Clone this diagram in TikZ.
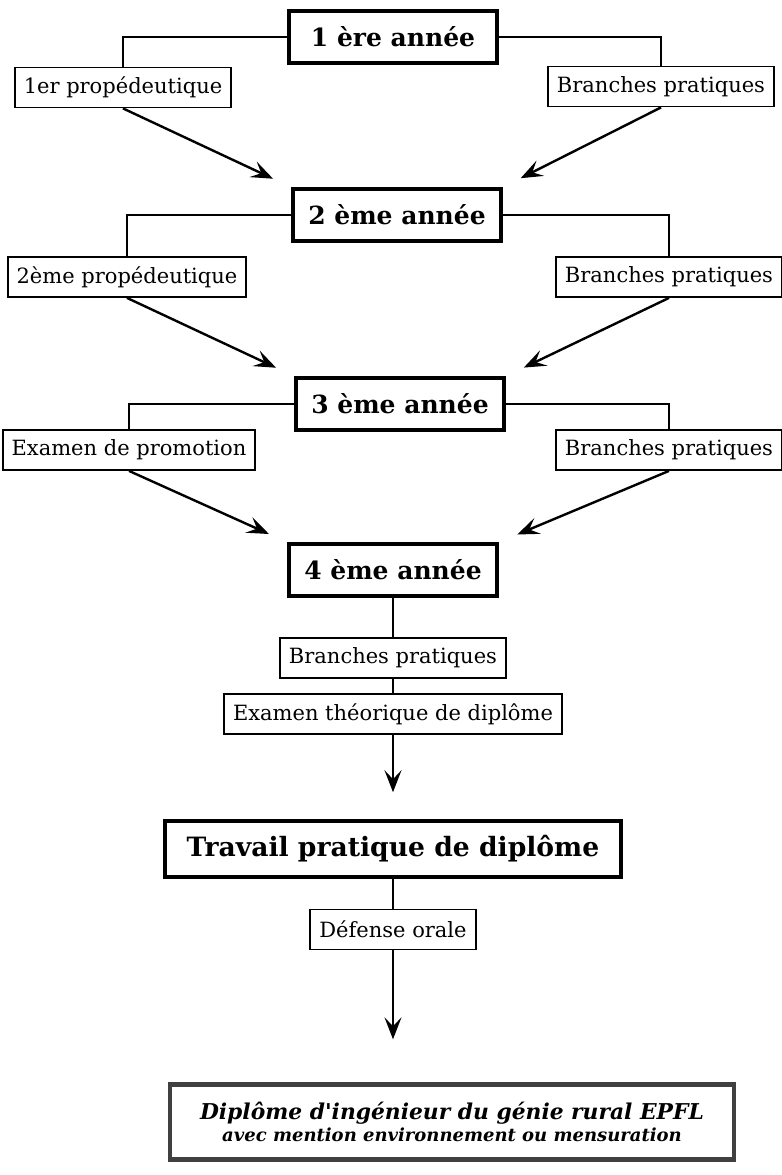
\documentclass[tikz,border=0pt]{standalone}
\usepackage{fontspec}
\setmainfont{DejaVu Serif}
\usetikzlibrary{arrows.meta,calc}
\begin{document}
\begin{tikzpicture}[x=0.5pt,y=-0.5pt,
  year/.style={draw, line width=1.8pt, minimum width=104pt, minimum height=26pt,
    inner sep=0pt, font=\bfseries\fontsize{12.5}{14}\selectfont},
  sub/.style={draw, line width=0.9pt, minimum height=20pt, inner xsep=4.5pt,
    inner ysep=2pt, font=\fontsize{10.5}{12}\selectfont},
  link/.style={line width=0.9pt},
  flow/.style={line width=1.2pt, -{Stealth[length=11pt,width=8.5pt,inset=4.5pt]}},
  final/.style={draw=black!75, line width=2.2pt, minimum width=282pt,
    minimum height=37.5pt, align=center, inner sep=4pt},
]
\useasboundingbox (0,0) rectangle (782,1175);

% first year
\node[year] (y1) at (393,37) {1 ère année};
\node[sub] (p1) at (123,87.5) {1er propédeutique};
\node[sub] (b1) at (661,86.5) {Branches pratiques};

% second year
\node[year] (y2) at (397,215) {2 ème année};
\node[sub] (p2) at (127,277) {2ème propédeutique};
\node[sub] (b2) at (669,277) {Branches pratiques};

% third year
\node[year] (y3) at (400,404) {3 ème année};
\node[sub] (p3) at (129,450) {Examen de promotion};
\node[sub] (b3) at (669,450) {Branches pratiques};

% fourth year and diploma
\node[year] (y4) at (393,570) {4 ème année};
\node[sub] (b4) at (393,658) {Branches pratiques};
\node[sub] (e4) at (393,714) {Examen théorique de diplôme};
\node[year, minimum width=228pt, minimum height=28pt,
  font=\bfseries\fontsize{13.3}{15}\selectfont] (tp) at (393,849)
  {Travail pratique de diplôme};
\node[sub] (df) at (393,929.5) {Défense orale};
\node[final] (dp) at (452,1122)
  {{\bfseries\itshape\fontsize{10.9}{13}\selectfont Diplôme d\textquotesingle ingénieur du génie rural EPFL}\\[-1pt]
   {\bfseries\itshape\fontsize{9}{11}\selectfont avec mention environnement ou mensuration}};

% branches of each year
\draw[link] (y1.west) -| (p1.north);
\draw[link] (y1.east) -| (b1.north);
\draw[link] (y2.west) -| (p2.north);
\draw[link] (y2.east) -| (b2.north);
\draw[link] (y3.west) -| (p3.north);
\draw[link] (y3.east) -| (b3.north);

% promotion to the next year
\draw[flow, shorten >=10pt] (p1.south) -- (y2.north west);
\draw[flow, shorten >=10pt] (b1.south) -- (y2.north east);
\draw[flow, shorten >=10pt] (p2.south) -- (y3.north west);
\draw[flow, shorten >=10pt] (b2.south) -- (y3.north east);
\draw[flow, shorten >=10pt] (p3.south) -- (y4.north west);
\draw[flow, shorten >=10pt] (b3.south) -- (y4.north east);

% final year chain
\draw[link] (y4.south) -- (b4.north);
\draw[link] (b4.south) -- (e4.north);
\draw[flow, shorten >=13.5pt] (e4.south) -- (tp.north);
\draw[link] (tp.south) -- (df.north);
\draw[flow, shorten >=21.5pt] (df.south) -- (df.south |- dp.north);
\end{tikzpicture}
\end{document}
